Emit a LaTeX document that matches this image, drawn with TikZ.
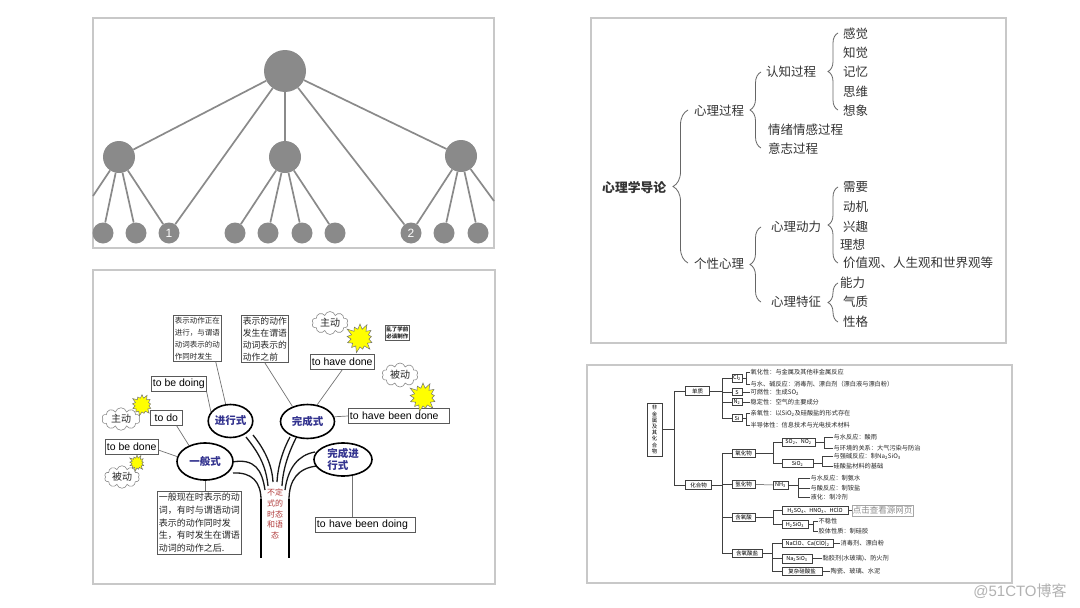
\documentclass[tikz,border=0pt]{standalone}
\usepackage{fontspec}
\setmainfont{Liberation Sans}
\newfontfamily\cjk{Noto Sans CJK SC}
\usetikzlibrary{shapes.symbols,shapes.geometric,decorations.pathreplacing}
\definecolor{dotgray}{HTML}{8A8A8A}
\definecolor{framegray}{HTML}{C8C8C8}
\definecolor{elltext}{HTML}{33338F}
\definecolor{redtext}{HTML}{B03A3A}
\definecolor{sunyellow}{HTML}{FFFF00}
\tikzset{
  frame/.style={draw=framegray, line width=1.2pt},
  gdot/.style={circle, fill=dotgray, inner sep=0pt, minimum size=#1, text=white, font=\fontsize{12}{12}\selectfont},
  gline/.style={draw=dotgray, line width=1.7pt},
  ptext/.style={font=\cjk\fontsize{12.5}{14}\selectfont, text=black!80, inner sep=0pt, anchor=west},
  pbrace/.style={draw=black!60, line width=0.8pt, decorate, decoration={brace, amplitude=#1}},
  ell/.style={ellipse, draw=black, line width=1.6pt, fill=white, text=elltext, font=\cjk\bfseries\fontsize{10.5}{12}\selectfont, inner sep=0pt},
  ebox/.style={draw=black!65, line width=0.7pt, fill=white, inner xsep=1.5pt, inner ysep=1pt, font=\fontsize{10.5}{12}\selectfont, anchor=west, minimum height=15pt},
  cbox/.style={draw=black!65, line width=0.7pt, fill=white, inner sep=1.5pt, align=left, anchor=north west, text=black!85},
  conn/.style={draw=black!55, line width=0.7pt},
  branch/.style={draw=black!90, line width=1.3pt},
  trunk/.style={draw=black, line width=2pt},
  cloudn/.style={cloud, cloud puffs=10, aspect=1.7, draw=black!45, line width=0.6pt, fill=white, font=\cjk\fontsize{10}{12}\selectfont, text=black!85, inner sep=0pt},
  sun/.style={starburst, starburst points=13, starburst point height=#1, fill=sunyellow, draw=black!55, line width=0.5pt, inner sep=0pt},
  kbox/.style={draw=black!75, line width=0.5pt, fill=white, inner sep=1pt, font=\cjk\fontsize{5.5}{6}\selectfont, minimum height=8pt},
  ktext/.style={font=\cjk\fontsize{6.2}{6.5}\selectfont, inner sep=0.5pt, anchor=west, text=black!85},
  kline/.style={draw=black!75, line width=0.5pt},
}
\begin{document}
\begin{tikzpicture}[x=1pt,y=-1pt]
\useasboundingbox (0,0) rectangle (1080,608);
\fill[white] (0,0) rectangle (1080,608);

% ---------------- panel 1 ----------------
\draw[frame] (93,18) rectangle (494,248);
\node[gdot=42pt] (r) at (285,71) {};
\node[gdot=32pt] (m1) at (119,157) {};
\node[gdot=32pt] (m2) at (285,157) {};
\node[gdot=32pt] (m3) at (461,156) {};
\foreach \i/\x/\t in {1/103/,2/136/,3/169/1,4/235/,5/268/,6/302/,7/335/,8/411/2,9/444/,10/478/}
  \node[gdot=21pt] (l\i) at (\x,233) {\t};
\coordinate (o1) at (93,196);
\coordinate (o2) at (494,201);
\draw[gline] (r)--(m1) (r)--(l3) (r)--(m2) (r)--(l8) (r)--(m3);
\draw[gline] (m1)--(o1) (m1)--(l1) (m1)--(l2) (m1)--(l3);
\draw[gline] (m2)--(l4) (m2)--(l5) (m2)--(l6) (m2)--(l7);
\draw[gline] (m3)--(l8) (m3)--(l9) (m3)--(l10) (m3)--(o2);

% ---------------- panel 2 ----------------
\draw[frame] (591,18) rectangle (1006,343);
\node[ptext, font=\cjk\bfseries\fontsize{12.8}{14}\selectfont] (root) at (602,188) {心理学导论};
\node[ptext] (xlgc) at (694,111) {心理过程};
\node[ptext] (gxxl) at (694,264) {个性心理};
\node[ptext] (rzgc) at (766,72) {认知过程};
\node[ptext] (qxgc) at (768,130) {情绪情感过程};
\node[ptext] (yzgc) at (768,149) {意志过程};
\node[ptext] (a1) at (843,34) {感觉};
\node[ptext] (a2) at (843,53) {知觉};
\node[ptext] (a3) at (843,72) {记忆};
\node[ptext] (a4) at (843,92) {思维};
\node[ptext] (a5) at (843,111) {想象};
\node[ptext] (xldl) at (771,227) {心理动力};
\node[ptext] (xltz) at (771,302) {心理特征};
\node[ptext] (b1) at (843,187) {需要};
\node[ptext] (b2) at (843,207) {动机};
\node[ptext] (b3) at (843,227) {兴趣};
\node[ptext] (b4) at (840,245) {理想};
\node[ptext] (b5) at (843,263) {价值观、人生观和世界观等};
\node[ptext] (c1) at (840,283) {能力};
\node[ptext] (c2) at (843,302) {气质};
\node[ptext] (c3) at (843,322) {性格};
\draw[pbrace=15pt] (688,263) -- (688,110);
\draw[pbrace=11pt] (761,148) -- (761,72);
\draw[pbrace=10pt] (838,110) -- (838,33);
\draw[pbrace=11pt] (761,302) -- (761,227);
\draw[pbrace=10pt] (838,263) -- (838,187);
\draw[pbrace=10pt] (838,322) -- (838,283);

% ---------------- panel 3 ----------------
\draw[frame] (93,270) rectangle (495,584);
% tree
\draw[branch] (232,462) .. controls (255,458) and (262,470) .. (265,490);
\draw[branch] (233,473) .. controls (252,472) and (261,482) .. (261,500);
\draw[branch] (246,437) .. controls (258,452) and (266,465) .. (268,486);
\draw[branch] (253,435) .. controls (265,450) and (272,465) .. (273,482);
\draw[branch] (290,437) .. controls (283,450) and (278,465) .. (277,482);
\draw[branch] (296,438) .. controls (289,452) and (283,468) .. (282,486);
\draw[branch] (315,452) .. controls (298,455) and (288,468) .. (285,490);
\draw[branch] (317,466) .. controls (298,468) and (289,480) .. (289,500);
\draw[trunk] (261,499) -- (261,558);
\draw[trunk] (289,499) -- (289,558);
\node[ell, minimum width=56pt, minimum height=37pt] (e1) at (205,461.5) {一般式};
\node[ell, minimum width=43pt, minimum height=33pt] (e2) at (230.5,421) {进行式};
\node[ell, minimum width=54pt, minimum height=34pt] (e3) at (307.5,421.5) {完成式};
\node[ell, minimum width=58pt, minimum height=33pt, align=left] (e4) at (343,459.5) {完成进\\行式};
\node[text=redtext, font=\cjk\fontsize{8}{10.6}\selectfont, align=center, inner sep=0pt] (red) at (275,514) {不定\\式的\\时态\\和语\\态};
% text boxes
\node[cbox, font=\cjk\fontsize{7.5}{12}\selectfont] (cb1) at (173,315) {表示动作正在\\进行，与谓语\\动词表示的动\\作同时发生};
\node[cbox, font=\cjk\fontsize{8.8}{12}\selectfont] (cb2) at (241,315) {表示的动作\\发生在谓语\\动词表示的\\动作之前};
\node[cbox, font=\cjk\fontsize{9}{12.8}\selectfont] (cb3) at (157,491) {一般现在时表示的动\\词，有时与谓语动词\\表示的动作同时发\\生，有时发生在谓语\\动词的动作之后.};
\node[cbox, font=\cjk\bfseries\fontsize{5.5}{7.5}\selectfont, inner sep=1pt] (cb4) at (385,325) {乱了学前\\必谈制作};
\node[ebox] (tbd) at (151,384) {to be doing};
\node[ebox, minimum width=32pt] (tdo) at (150,418) {to do};
\node[ebox] (tbdn) at (105,447) {to be done};
\node[ebox] (thd) at (310,362) {to have done};
\node[ebox, text width=98pt, align=left] (thbd) at (348,416) {to have been done};
\node[ebox, text width=97pt, align=left] (thbdg) at (315,525) {to have been doing};
% connectors
\draw[conn] ([xshift=-6pt]cb1.south east) -- (e2.106);
\draw[conn] (cb2.south) -- (e3.135);
\draw[conn] (tbd.south east) -- (e2.155);
\draw[conn] ([xshift=-6pt]tdo.south east) -- (e1.135);
\draw[conn] ([yshift=-3pt]tbdn.east) -- (e1.170);
\draw[conn] (e1.south) -- (e1.south |- cb3.north);
\draw[conn] (thd.south) -- (e3.60);
\draw[conn] (e3.10) -- (thbd.west);
\draw[conn] (e4.-60) -- (e4.-60 |- thbdg.north);
% clouds and suns
\node[cloudn, minimum width=38pt, minimum height=22pt] (cl1) at (121,419) {主动};
\node[cloudn, minimum width=35pt, minimum height=22pt] (cl2) at (122,477) {被动};
\node[cloudn, minimum width=36pt, minimum height=23pt] (cl3) at (330,323) {主动};
\node[cloudn, minimum width=36pt, minimum height=24pt] (cl4) at (400,375) {被动};
\node[sun=4.5pt, minimum size=23pt] (s1) at (142,405) {};
\node[sun=4pt, minimum size=18pt] (s2) at (137,463) {};
\node[sun=7pt, minimum size=32pt] (s3) at (360,338) {};
\node[sun=7pt, minimum size=32pt] (s4) at (423,397) {};

% ---------------- panel 4 ----------------
\draw[frame] (587,365) rectangle (1012,583);
\node[kbox, minimum width=15pt, minimum height=53pt, align=center, font=\cjk\fontsize{5.4}{6.2}\selectfont] (vb) at (654.5,429.5) {非\\金\\属\\及\\其\\化\\合\\物};
\node[kbox, minimum width=24pt, minimum height=9pt] (dz) at (697.5,391) {单质};
\node[kbox, minimum width=26pt, minimum height=9pt] (hhw) at (698.5,485) {化合物};
\node[kbox, minimum width=10pt] (cl) at (737,378) {Cl\textsubscript{2}};
\node[kbox, minimum width=10pt, minimum height=7pt] (sx) at (737,392) {S};
\node[kbox, minimum width=10pt, minimum height=7pt] (nn) at (737,402) {N\textsubscript{2}};
\node[kbox, minimum width=10pt, minimum height=7pt] (si) at (737,418) {Si};
\node[kbox, minimum width=23pt] (yhw) at (743.5,453) {氧化物};
\node[kbox, minimum width=23pt] (qhw) at (743.5,484.5) {氢化物};
\node[kbox, minimum width=23pt] (hys) at (743.5,517) {含氧酸};
\node[kbox, minimum width=30pt] (hysy) at (747,553.5) {含氧酸盐};
\node[kbox, minimum width=33pt] (so2) at (798.5,442) {SO\textsubscript{2}、NO\textsubscript{2}};
\node[kbox, minimum width=31pt, minimum height=8pt] (sio2) at (797.5,463.5) {SiO\textsubscript{2}};
\node[kbox, minimum width=15pt] (nh3) at (780.5,485) {NH\textsubscript{3}};
\node[kbox, minimum width=66pt, minimum height=8pt] (acid) at (815,510.5) {H\textsubscript{2}SO\textsubscript{4}、HNO\textsubscript{3}、HClO};
\node[kbox, minimum width=59pt, minimum height=11pt, draw=black!35, text=black!45, font=\cjk\fontsize{8.5}{9}\selectfont] (link) at (882.5,510.5) {点击查看源网页};
\node[kbox, minimum width=26pt, minimum height=8pt] (hsi) at (795,524.5) {H\textsubscript{2}SiO\textsubscript{3}};
\node[kbox, minimum width=51pt, minimum height=8pt] (nacl) at (807.5,543.5) {NaClO、Ca(ClO)\textsubscript{2}};
\node[kbox, minimum width=30pt, minimum height=9pt] (nasi) at (797,558.5) {Na\textsubscript{2}SiO\textsubscript{3}};
\node[kbox, minimum width=40pt] (fz) at (802,571) {复杂硅酸盐};
\node[ktext] (t1) at (750,372) {氧化性：与金属及其他非金属反应};
\node[ktext] (t2) at (750,384) {与水、碱反应：消毒剂、漂白剂（漂白液与漂白粉）};
\node[ktext] (t3) at (750,392) {可燃性：生成SO\textsubscript{2}};
\node[ktext] (t4) at (750,402) {稳定性：空气的主要成分};
\node[ktext] (t5) at (750,413) {亲氧性：以SiO\textsubscript{2}及硅酸盐的形式存在};
\node[ktext] (t6) at (750,425) {半导体性：信息技术与光电技术材料};
\node[ktext] (t7) at (833,437) {与水反应：酸雨};
\node[ktext] (t8) at (833,448) {与环境的关系：大气污染与防治};
\node[ktext] (t9) at (833,456) {与强碱反应：制Na\textsubscript{2}SiO\textsubscript{3}};
\node[ktext] (t10) at (833,466) {硅酸盐材料的基础};
\node[ktext] (t11) at (810,478) {与水反应：制氨水};
\node[ktext] (t12) at (810,488) {与酸反应：制铵盐};
\node[ktext] (t13) at (810,497) {液化：制冷剂};
\node[ktext] (t14) at (818,521) {不稳性};
\node[ktext] (t15) at (818,531) {胶体性质：制硅胶};
\node[ktext] (t16) at (840,543.5) {消毒剂、漂白粉};
\node[ktext] (t17) at (822,558.5) {黏胶剂(水玻璃)、防火剂};
\node[ktext] (t18) at (830,571) {陶瓷、玻璃、水泥};
\draw[kline] (vb.east) -- ++(12,0) |- (dz.west);
\draw[kline] (vb.east) -- ++(12,0) |- (hhw.west);
\foreach \c in {cl,sx,nn,si} \draw[kline] (dz.east) -- ++(12,0) |- (\c.west);
\foreach \c in {yhw,qhw,hys,hysy} \draw[kline] (hhw.east) -- ++(10,0) |- (\c.west);
\draw[kline] (cl.east) -- ++(4,0) |- (t1.west);
\draw[kline] (cl.east) -- ++(4,0) |- (t2.west);
\draw[kline] (sx.east) -- (t3.west);
\draw[kline] (nn.east) -- (t4.west);
\draw[kline] (si.east) -- ++(4,0) |- (t5.west);
\draw[kline] (si.east) -- ++(4,0) |- (t6.west);
\draw[kline] (yhw.east) -- ++(18,0) |- (so2.west);
\draw[kline] (yhw.east) -- ++(18,0) |- (sio2.west);
\draw[kline] (so2.east) -- ++(9,0) |- (t7.west);
\draw[kline] (so2.east) -- ++(9,0) |- (t8.west);
\draw[kline] (sio2.east) -- ++(9,0) |- (t9.west);
\draw[kline] (sio2.east) -- ++(9,0) |- (t10.west);
\draw[kline] (qhw.east) -- (nh3.west);
\foreach \c in {t11,t12,t13} \draw[kline] (nh3.east) -- ++(10,0) |- (\c.west);
\draw[kline] (hys.east) -- ++(18,0) |- (acid.west);
\draw[kline] (hys.east) -- ++(18,0) |- (hsi.west);
\draw[kline] (acid.east) -- (link.west);
\draw[kline] (hsi.east) -- ++(5,0) |- (t14.west);
\draw[kline] (hsi.east) -- ++(5,0) |- (t15.west);
\foreach \c in {nacl,nasi,fz} \draw[kline] (hysy.east) -- ++(10,0) |- (\c.west);
\draw[kline] (nacl.east) -- (t16.west);
\draw[kline] (nasi.east) -- (t17.west);
\draw[kline] (fz.east) -- (t18.west);

% watermark
\node[text=black!30, font=\fontsize{15}{15}\selectfont, inner sep=0pt] (wm) at (1020,591) {@51CTO{\cjk 博客}};
\end{tikzpicture}
\end{document}
